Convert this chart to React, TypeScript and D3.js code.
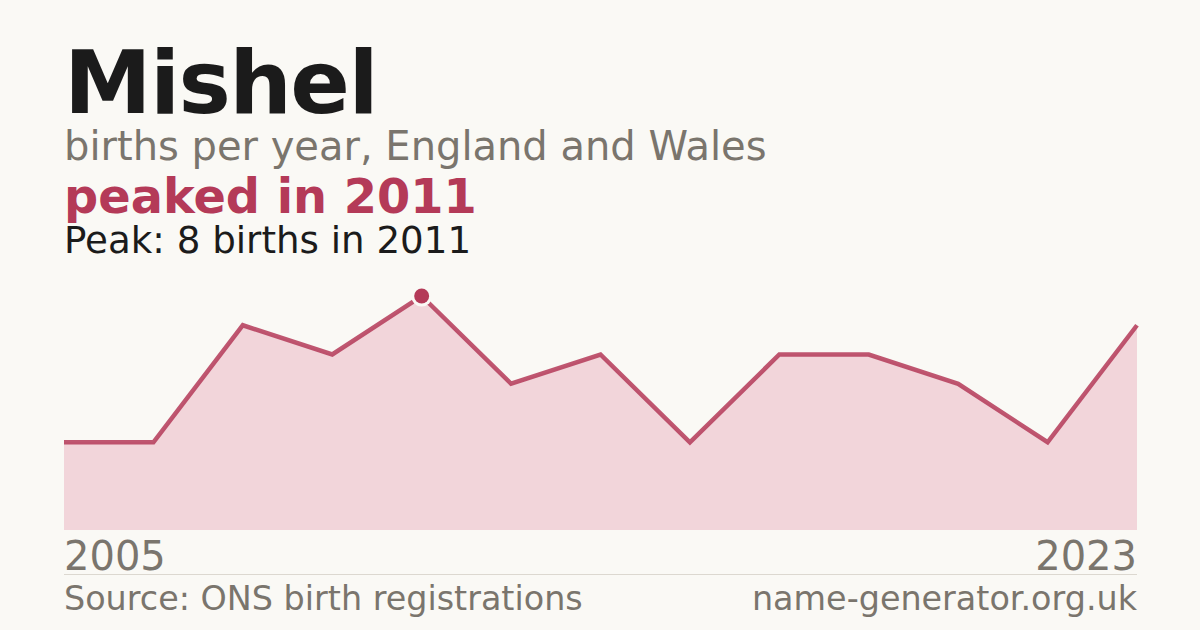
import * as d3 from 'd3';

const years = [2005, 2006, 2008, 2009, 2011, 2012, 2014, 2015, 2017, 2018, 2020, 2022, 2023];
const births = [3, 3, 7, 6, 8, 5, 6, 3, 6, 6, 5, 3, 7];
const name = 'Mishel';
const subtitle = 'births per year, England and Wales';
const source = 'Source: ONS birth registrations';
const site = 'name-generator.org.uk';

const W = 1200;
const H = 630;
const FONT = '"DejaVu Sans", sans-serif';
const ACCENT = '#b43a58';
const GREY = '#7a756d';
const BG = '#faf9f5';

export default function App() {
  const left = 64;
  const right = 1137;
  const top = 296;
  const bottom = 530;

  const x = d3.scalePoint<number>().domain(d3.range(years.length)).range([left, right]);
  const y = d3.scaleLinear().domain([0, d3.max(births)!]).range([bottom, top]);

  const line = d3.line<number>().x((_, i) => x(i)!).y((d) => y(d));
  const area = d3.area<number>().x((_, i) => x(i)!).y0(bottom).y1((d) => y(d));

  const peakIdx = d3.maxIndex(births);
  const peakYear = years[peakIdx];
  const peakVal = births[peakIdx];

  return (
    <svg
      width={W}
      height={H}
      style={{ position: 'absolute', left: 0, top: 0, display: 'block' }}
      fontFamily={FONT}
    >
      <rect width={W} height={H} fill={BG} />
      <text x={left} y={113} fontSize={88} fontWeight="bold" letterSpacing={-1.6} fill="#1b1b1b">
        {name}
      </text>
      <text x={left} y={160} fontSize={40} fill={GREY}>
        {subtitle}
      </text>
      <text x={left} y={213} fontSize={47.8} fontWeight="bold" fill={ACCENT}>
        peaked in {peakYear}
      </text>
      <text x={left} y={253} fontSize={37.2} fill="#1b1b1b">
        Peak: {peakVal} births in {peakYear}
      </text>

      <path d={area(births)!} fill="#f2d5da" />
      <path d={line(births)!} fill="none" stroke={ACCENT} strokeWidth={4.5} strokeOpacity={0.85} />
      <circle cx={x(peakIdx)} cy={y(peakVal)} r={10.5} fill={BG} />
      <circle cx={x(peakIdx)} cy={y(peakVal)} r={7.5} fill={ACCENT} />

      <text x={left} y={570} fontSize={40} fill={GREY}>
        {years[0]}
      </text>
      <text x={right} y={570} fontSize={40} fill={GREY} textAnchor="end">
        {years[years.length - 1]}
      </text>
      <line x1={left} x2={right} y1={574.5} y2={574.5} stroke="#dcd8d0" strokeWidth={1} />
      <text x={left} y={610} fontSize={33.4} fill={GREY}>
        {source}
      </text>
      <text x={right} y={610} fontSize={33.4} fill={GREY} textAnchor="end">
        {site}
      </text>
    </svg>
  );
}
